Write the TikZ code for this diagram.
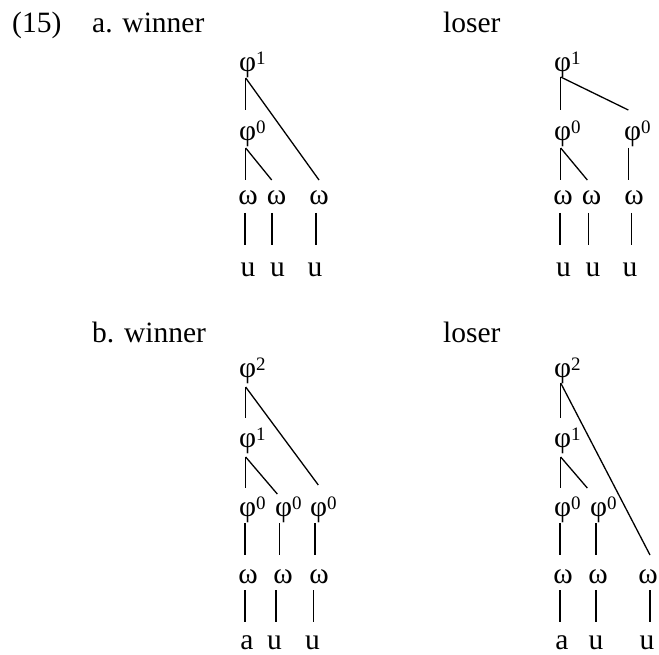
\documentclass[tikz,border=0pt]{standalone}
\usepackage{fontspec}
\setmainfont{Liberation Serif}
\newcommand\phs[1]{φ\raisebox{7pt}{\fontsize{19}{19}\selectfont #1}}
\begin{document}
\begin{tikzpicture}[x=1pt,y=-1pt,
  every node/.style={inner sep=0pt,font=\fontsize{29.5}{35}\selectfont},
  lbl/.style={anchor=base west},
  ph/.style={anchor=base west},
  sym/.style={anchor=base},
  edge/.style={line width=1.3pt}]
\useasboundingbox (0,0) rectangle (659,655);
% titles
\node[lbl] (n15) at (12,33) {(15)};
\node[lbl] (aw) at (92,33) {a. winner};
\node[lbl] (al) at (443,33) {loser};
\node[lbl] (bw) at (92,342) {b. winner};
\node[lbl] (bl) at (443,342) {loser};
% ---------- tree a winner ----------
\node[ph] (awp1) at (239,71.5) {\phs{1}};
\node[ph] (awp0) at (239,141) {\phs{0}};
\node[sym] (aww1) at (248,205) {ω};
\node[sym] (aww2) at (276.5,205) {ω};
\node[sym] (aww3) at (319,205) {ω};
\node[sym] (aws1) at (248,276.5) {u};
\node[sym] (aws2) at (277.5,276.5) {u};
\node[sym] (aws3) at (315,276.5) {u};
\coordinate (awp1b) at (245.7,78);
\coordinate (awp0t) at (245.7,110);
\coordinate (awp0b) at (245.7,148);
\coordinate (aww1t) at (245.7,180);
\coordinate (aww2t) at (271.7,180);
\coordinate (aww3t) at (319,180);
\coordinate (aww1b) at (245,213);  \coordinate (aws1t) at (245,245);
\coordinate (aww2b) at (272,213);  \coordinate (aws2t) at (272,245);
\coordinate (aww3b) at (316,213);  \coordinate (aws3t) at (316,245);
\draw[edge] (awp1b) -- (awp0t);
\draw[edge] (awp1b) -- (aww3t);
\draw[edge] (awp0b) -- (aww1t);
\draw[edge] (awp0b) -- (aww2t);
\draw[edge] (aww1b) -- (aws1t);
\draw[edge] (aww2b) -- (aws2t);
\draw[edge] (aww3b) -- (aws3t);
% ---------- tree a loser ----------
\node[ph] (alp1) at (554,71.5) {\phs{1}};
\node[ph] (alp0a) at (554,141) {\phs{0}};
\node[ph] (alp0b) at (624,141) {\phs{0}};
\node[sym] (alw1) at (563,205) {ω};
\node[sym] (alw2) at (591.5,205) {ω};
\node[sym] (alw3) at (634,205) {ω};
\node[sym] (als1) at (563.5,276.5) {u};
\node[sym] (als2) at (593,276.5) {u};
\node[sym] (als3) at (630,276.5) {u};
\coordinate (alp1b) at (560.7,77);
\coordinate (alp0at) at (560.7,110);
\coordinate (alp0bt) at (628.3,110);
\coordinate (alp0ab) at (560.7,148);
\coordinate (alp0bb) at (628.3,148);
\coordinate (alw1t) at (560.7,180);
\coordinate (alw2t) at (587.3,180);
\coordinate (alw3t) at (628.3,180);
\coordinate (alw1b) at (560,213);   \coordinate (als1t) at (560,245);
\coordinate (alw2b) at (588.3,213); \coordinate (als2t) at (588.3,245);
\coordinate (alw3b) at (631.7,213); \coordinate (als3t) at (631.7,245);
\draw[edge] (alp1b) -- (alp0at);
\draw[edge] (alp1b) -- (alp0bt);
\draw[edge] (alp0ab) -- (alw1t);
\draw[edge] (alp0ab) -- (alw2t);
\draw[edge] (alp0bb) -- (alw3t);
\draw[edge] (alw1b) -- (als1t);
\draw[edge] (alw2b) -- (als2t);
\draw[edge] (alw3b) -- (als3t);
% ---------- tree b winner ----------
\node[ph] (bwp2) at (239,377) {\phs{2}};
\node[ph] (bwp1) at (239,447) {\phs{1}};
\node[ph] (bwp0a) at (239,516) {\phs{0}};
\node[ph] (bwp0b) at (275,516) {\phs{0}};
\node[ph] (bwp0c) at (310,516) {\phs{0}};
\node[sym] (bww1) at (248,583) {ω};
\node[sym] (bww2) at (283,583) {ω};
\node[sym] (bww3) at (319,583) {ω};
\node[sym] (bws1) at (247,649) {a};
\node[sym] (bws2) at (274.5,649) {u};
\node[sym] (bws3) at (312.5,649) {u};
\coordinate (bwp2b) at (245.7,387);
\coordinate (bwp1t) at (245.7,418);
\coordinate (bwp0ct) at (318.3,485);
\coordinate (bwp1b) at (245.7,457);
\coordinate (bwp0at) at (245.7,488);
\coordinate (bwp0bt) at (277.3,494);
\coordinate (bwp0ab) at (245,523);   \coordinate (bww1t) at (245,555);
\coordinate (bwp0bb) at (279.3,523); \coordinate (bww2t) at (279.3,555);
\coordinate (bwp0cb) at (315,523);   \coordinate (bww3t) at (315,555);
\coordinate (bww1b) at (245,590);    \coordinate (bws1t) at (245,622);
\coordinate (bww2b) at (276,590);    \coordinate (bws2t) at (276,622);
\coordinate (bww3b) at (313.3,590);  \coordinate (bws3t) at (313.3,622);
\draw[edge] (bwp2b) -- (bwp1t);
\draw[edge] (bwp2b) -- (bwp0ct);
\draw[edge] (bwp1b) -- (bwp0at);
\draw[edge] (bwp1b) -- (bwp0bt);
\draw[edge] (bwp0ab) -- (bww1t);
\draw[edge] (bwp0bb) -- (bww2t);
\draw[edge] (bwp0cb) -- (bww3t);
\draw[edge] (bww1b) -- (bws1t);
\draw[edge] (bww2b) -- (bws2t);
\draw[edge] (bww3b) -- (bws3t);
% ---------- tree b loser ----------
\node[ph] (blp2) at (554,377) {\phs{2}};
\node[ph] (blp1) at (554,447) {\phs{1}};
\node[ph] (blp0a) at (554,516) {\phs{0}};
\node[ph] (blp0b) at (590,516) {\phs{0}};
\node[sym] (blw1) at (563,583) {ω};
\node[sym] (blw2) at (598,583) {ω};
\node[sym] (blw3) at (648,583) {ω};
\node[sym] (bls1) at (562,649) {a};
\node[sym] (bls2) at (596,649) {u};
\node[sym] (bls3) at (647,649) {u};
\coordinate (blp2b) at (560.7,383);
\coordinate (blp1t) at (560.7,418);
\coordinate (blw3t) at (650,555);
\coordinate (blp1b) at (560.7,457);
\coordinate (blp0at) at (560.7,488);
\coordinate (blp0bt) at (587.3,488);
\coordinate (blp0ab) at (560,523); \coordinate (blw1t) at (560,555);
\coordinate (blp0bb) at (596,523); \coordinate (blw2t) at (596,555);
\coordinate (blw1b) at (560,590);  \coordinate (bls1t) at (560,622);
\coordinate (blw2b) at (596,590);  \coordinate (bls2t) at (596,622);
\coordinate (blw3b) at (650,590);  \coordinate (bls3t) at (650,622);
\draw[edge] (blp2b) -- (blp1t);
\draw[edge] (blp2b) -- (blw3t);
\draw[edge] (blp1b) -- (blp0at);
\draw[edge] (blp1b) -- (blp0bt);
\draw[edge] (blp0ab) -- (blw1t);
\draw[edge] (blp0bb) -- (blw2t);
\draw[edge] (blw1b) -- (bls1t);
\draw[edge] (blw2b) -- (bls2t);
\draw[edge] (blw3b) -- (bls3t);
\end{tikzpicture}
\end{document}
